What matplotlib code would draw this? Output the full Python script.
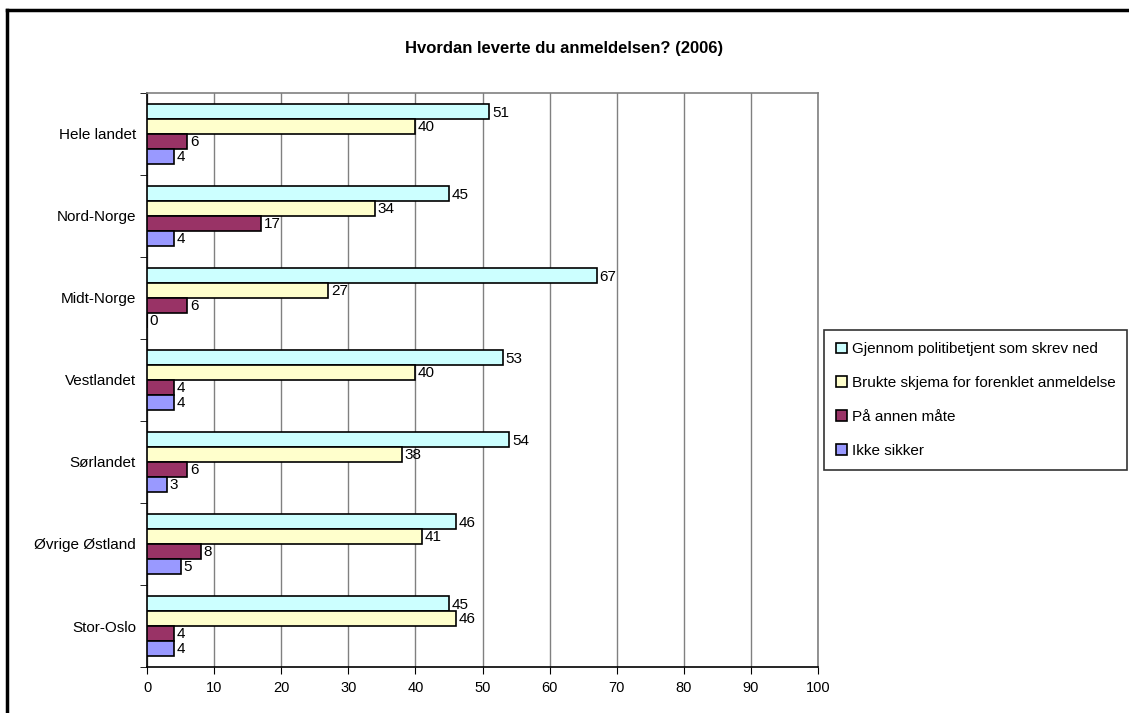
import matplotlib.pyplot as plt
import numpy as np
from matplotlib.lines import Line2D

plt.rcParams['font.family'] = ['Liberation Sans', 'DejaVu Sans']

regions = ["Hele landet", "Nord-Norge", "Midt-Norge", "Vestlandet",
           "Sørlandet", "Øvrige Østland", "Stor-Oslo"]
series_names = ["Gjennom politibetjent som skrev ned",
                "Brukte skjema for forenklet anmeldelse",
                "På annen måte",
                "Ikke sikker"]
gjennom = [51, 45, 67, 53, 54, 46, 45]
skjema = [40, 34, 27, 40, 38, 41, 46]
annen = [6, 17, 6, 4, 6, 8, 4]
ikke_sikker = [4, 4, 0, 4, 3, 5, 4]
colors = ["#CCFFFF", "#FFFFCC", "#993366", "#9999FF"]

fig = plt.figure(figsize=(11.29, 7.13), dpi=100)
ax = fig.add_axes([147 / 1129, 1 - 667 / 713, (818 - 147) / 1129, (667 - 93) / 713])

n = len(regions)
centers = np.arange(n)[::-1]  # Hele landet on top
h = 0.18
offsets = [1.5 * h, 0.5 * h, -0.5 * h, -1.5 * h]

for vals, name, col, off in zip([gjennom, skjema, annen, ikke_sikker],
                                series_names, colors, offsets):
    ys = centers + off
    ax.barh(ys, vals, height=h, color=col, edgecolor="black", linewidth=1.2,
            label=name, zorder=3)
    for y, v in zip(ys, vals):
        ax.text(v + 0.4, y - 0.01, str(v), va="center", ha="left", fontsize=11, zorder=4)

ax.set_xlim(0, 100)
ax.set_ylim(-0.5, n - 0.5)
ax.set_xticks(np.arange(0, 101, 10))
ax.set_yticks(centers)
ax.set_yticklabels(regions, fontsize=11)
ax.set_yticks(np.arange(-0.5, n, 1), minor=True)
ax.tick_params(axis="y", which="major", length=0, pad=8)
ax.tick_params(axis="y", which="minor", length=5, direction="out", color="black")
ax.tick_params(axis="x", length=5, direction="out", labelsize=10.5, pad=5)

ax.grid(axis="x", color="#808080", linewidth=1, zorder=0)
ax.spines["left"].set_color("black")
ax.spines["bottom"].set_color("black")
ax.spines["top"].set_color("#808080")
ax.spines["right"].set_color("#808080")
for s in ax.spines.values():
    s.set_linewidth(1.2)

fig.text(0.5, 1 - 48 / 713, "Hvordan leverte du anmeldelsen? (2006)",
         ha="center", va="center", fontsize=12, fontweight="bold")

leg = fig.legend(loc="upper left", bbox_to_anchor=(824 / 1129, 1 - 330 / 713),
                 fontsize=11, frameon=True, fancybox=False, edgecolor="black",
                 handlelength=0.7, handleheight=0.7, handletextpad=0.3,
                 labelspacing=1.3, borderpad=0.8, borderaxespad=0)
leg.get_frame().set_linewidth(1.2)

# outer chart frame (top and left edges visible)
fig.add_artist(Line2D([7 / 1129, 1], [1 - 10 / 713, 1 - 10 / 713], color="black",
                      linewidth=2.5, transform=fig.transFigure))
fig.add_artist(Line2D([7 / 1129, 7 / 1129], [0, 1 - 10 / 713], color="black",
                      linewidth=2.5, transform=fig.transFigure))

fig.savefig("out.png", dpi=100)
